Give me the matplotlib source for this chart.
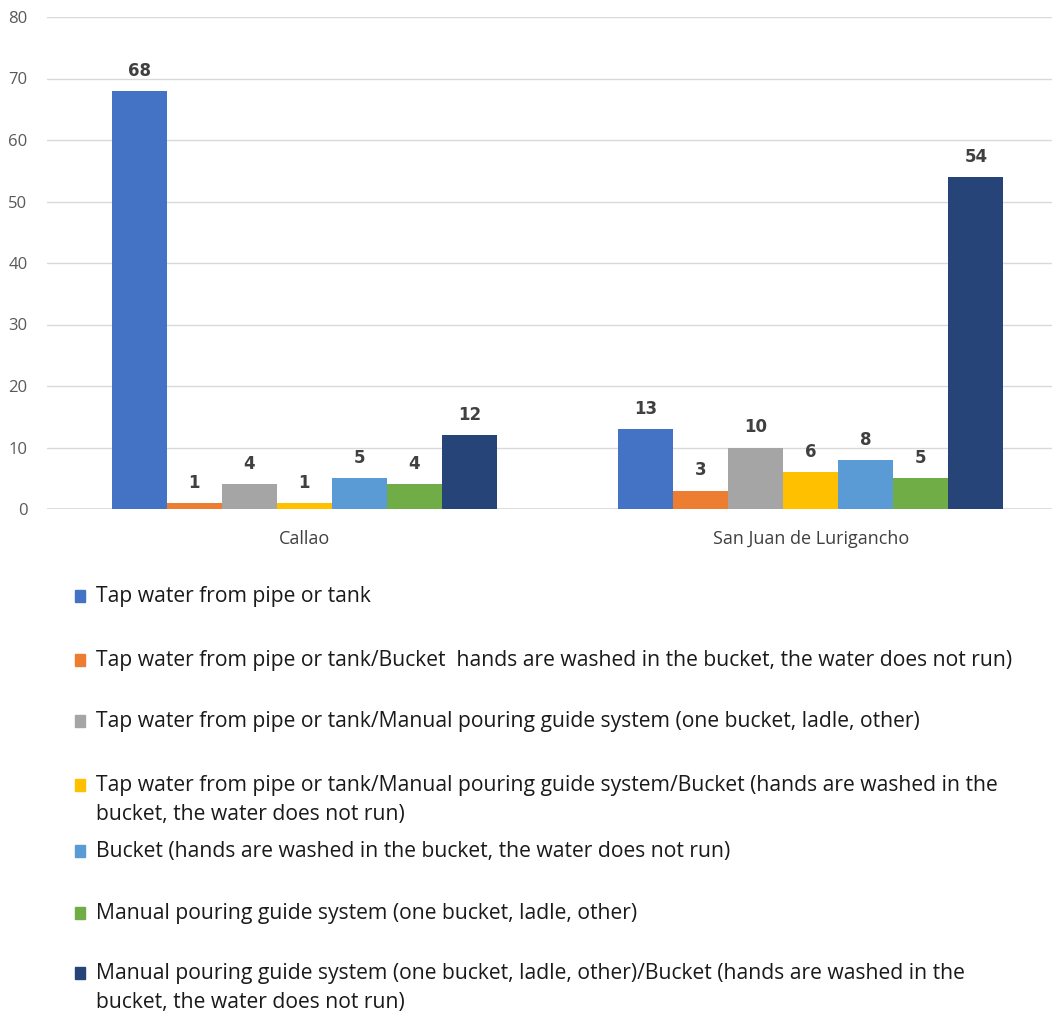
import matplotlib.pyplot as plt
import matplotlib.patches as mpatches
import numpy as np

# ================================================================
# DATA
# ================================================================

districts = ["Callao", "San Juan de Lurigancho"]

series_names = [
    "Tap water from pipe or tank",
    "Tap water from pipe or tank/Bucket  hands are washed in the bucket, the water does not run)",
    "Tap water from pipe or tank/Manual pouring guide system (one bucket, ladle, other)",
    "Tap water from pipe or tank/Manual pouring guide system/Bucket (hands are washed in the\nbucket, the water does not run)",
    "Bucket (hands are washed in the bucket, the water does not run)",
    "Manual pouring guide system (one bucket, ladle, other)",
    "Manual pouring guide system (one bucket, ladle, other)/Bucket (hands are washed in the\nbucket, the water does not run)",
]

callao = [68, 1, 4, 1, 5, 4, 12]
sjl = [13, 3, 10, 6, 8, 5, 54]

colors = ["#4472C4", "#ED7D31", "#A5A5A5", "#FFC000", "#5B9BD5", "#70AD47", "#264478"]

# ================================================================
# PLOT
# ================================================================

fig = plt.figure(figsize=(10.55, 10.17), dpi=100)
ax = fig.add_axes([47 / 1055, 1 - 509 / 1017, (1052 - 47) / 1055, (509 - 17) / 1017])

x = np.arange(len(districts))
width = 0.1086
n = len(series_names)

for i in range(n):
    vals = [callao[i], sjl[i]]
    pos = x + (i - (n - 1) / 2) * width
    bars = ax.bar(pos, vals, width, color=colors[i], zorder=3)
    for b, v in zip(bars, vals):
        ax.annotate(str(v), (b.get_x() + b.get_width() / 2, v),
                    textcoords="offset points", xytext=(0, 8),
                    ha="center", va="bottom", fontsize=12,
                    fontweight="bold", color="#404040", family="DejaVu Sans")

ax.set_ylim(0, 80)
ax.set_xlim(-0.508, 1.476)
ax.set_yticks(range(0, 81, 10))
ax.yaxis.grid(True, color="#d9d9d9", linewidth=1, zorder=0)
ax.set_axisbelow(True)
for s in ax.spines.values():
    s.set_visible(False)
ax.axhline(0, color="#d9d9d9", linewidth=1.2, zorder=2)
ax.tick_params(axis="both", length=0)
ax.tick_params(axis="y", labelsize=12, labelcolor="#595959", pad=14)
ax.set_xticks(x)
ax.set_xticklabels(districts, fontsize=13, color="#404040", family="Open Sans")
ax.tick_params(axis="x", pad=15)
for lab in ax.get_yticklabels():
    lab.set_family("Open Sans")

# legend, drawn by hand because the wrapped items break the even spacing
legend_y = [596, 660, 721, 785, 851, 913, 973]
for name, c, yy in zip(series_names, colors, legend_y):
    fy = 1 - yy / 1017
    fig.patches.append(mpatches.Rectangle((75 / 1055, fy - 0.0055), 10 / 1055, 0.011,
                                          transform=fig.transFigure, color=c))
    fig.text(96 / 1055, fy + 0.0098, name, ha="left", va="top", fontsize=15.2,
             color="#1a1a1a", family="Open Sans", linespacing=1.5)

fig.savefig("out.png", dpi=100)
